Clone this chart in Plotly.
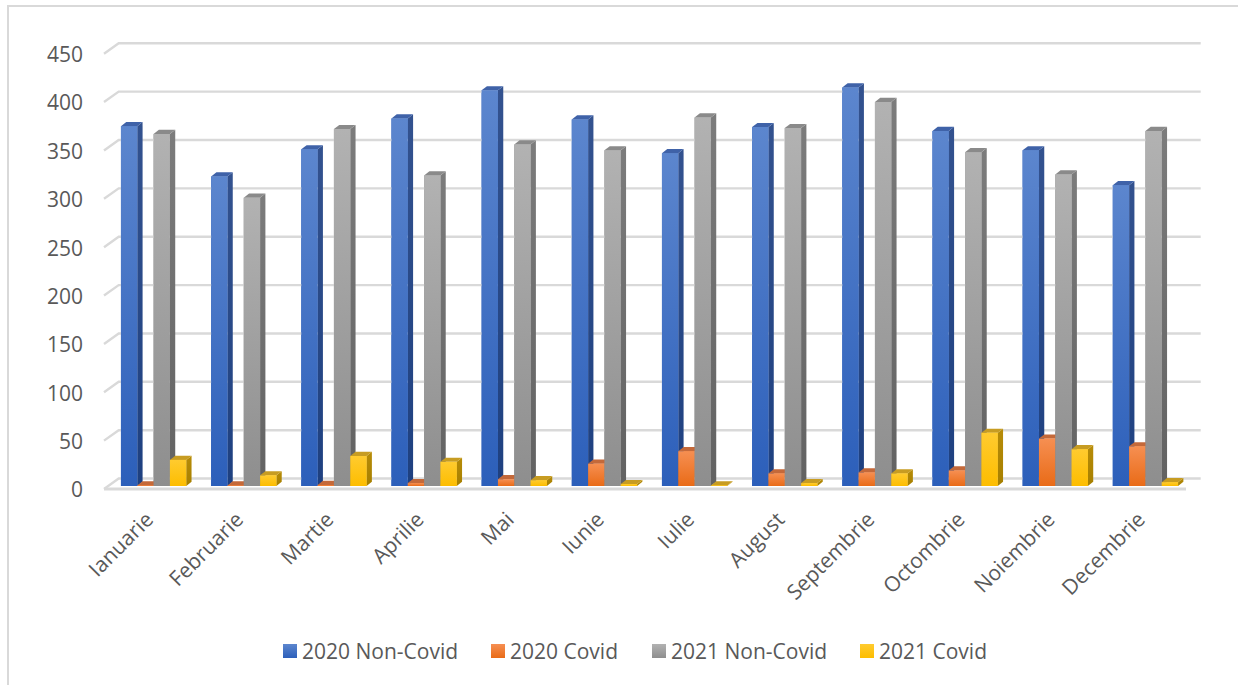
import plotly.graph_objects as go

months = ["Ianuarie", "Februarie", "Martie", "Aprilie", "Mai", "Iunie", "Iulie",
          "August", "Septembrie", "Octombrie", "Noiembrie", "Decembrie"]
non_covid_2020 = [372, 320, 348, 380, 409, 379, 344, 371, 412, 367, 347, 311]
covid_2020 = [0.5, 0.5, 1, 3, 7, 23, 36, 13, 14, 16, 49, 41]
non_covid_2021 = [364, 298, 369, 321, 353, 347, 381, 370, 397, 345, 322, 367]
covid_2021 = [27, 11, 31, 25, 6, 2, 0.5, 3, 13, 55, 38, 4]
grid_levels = list(range(0, 451, 50))

series = [
    ("2020 Non-Covid", non_covid_2020, "#5c86ce", "#2c5fba", "#33528f", "#1e4080", "#3f62a8"),
    ("2020 Covid", covid_2020, "#f68f52", "#e96b17", "#b56a40", "#a94e12", "#c4693a"),
    ("2021 Non-Covid", non_covid_2021, "#b2b2b2", "#8e8e8e", "#7c7c7c", "#626262", "#8a8a8a"),
    ("2021 Covid", covid_2021, "#ffcb2f", "#fdbd00", "#b78c08", "#a67f00", "#c79c22"),
]

# Canvas and plot area in pixels
W, H = 1248, 685
PLOT_L, PLOT_R, PLOT_T, PLOT_B = 104, 1186, 15, 489
Y_TOP = 490
X_MIN, X_MAX = -0.5, 11.5

# Oblique projection, expressed in axis units
BAR_W = 0.181        # width of a single bar in category units
BAR_SHIFT = 0.05     # bars stand slightly behind the front edge of the floor
BAR_LIFT = 3.1
BAR_DX, BAR_DY = 0.059, 4.3      # depth of one bar
WALL_DX, WALL_DY = 0.163, 10.8   # depth of the back wall
GRID = "#d9d9d9"
FONT_SIZE = 21

# Key swatch centres along the bottom edge, and where each text starts
KEY_X_PX = [290, 498, 659, 867]
KEY_Y_PX = 651
KEY_TEXT_DX = 12
KEY_TEXT_DY = 3


def px_to_x(px):
    return X_MIN + (px - PLOT_L) * (X_MAX - X_MIN) / (PLOT_R - PLOT_L)


def px_to_y(px):
    return (PLOT_B - px) * Y_TOP / (PLOT_B - PLOT_T)


# The faces, the wall and the key sit on a hidden pair of axes that has the same
# scale as the main axes but spans the whole canvas, so nothing gets clipped.
OVER = dict(xaxis="x2", yaxis="y2", showlegend=False, hoverinfo="skip", cliponaxis=False)

fig = go.Figure()

# Solid front faces
for k, (name, vals, top, bottom, *_ ) in enumerate(series):
    fig.add_trace(go.Bar(
        x=list(range(len(months))), y=vals, base=BAR_LIFT, width=BAR_W,
        offset=BAR_SHIFT + (k - 2) * BAR_W, marker=dict(color=bottom, line_width=0),
        name=name, showlegend=False, hoverinfo="skip",
    ))

# Back wall grid with the slanted run-in on the left
for v in grid_levels:
    fig.add_trace(go.Scatter(
        x=[X_MIN, X_MIN + WALL_DX, X_MAX + WALL_DX], y=[v, v + WALL_DY, v + WALL_DY],
        mode="lines", line=dict(color=GRID, width=2.4), **OVER,
    ))
# Front edge of the floor
fig.add_trace(go.Scatter(
    x=[X_MIN, X_MAX], y=[0, 0], mode="lines", line=dict(color=GRID, width=3), **OVER,
))


def gradient(c_top, c_bottom):
    return dict(type="vertical", colorscale=[[0, c_bottom], [1, c_top]])


# Cuboids, left to right so nearer bars cover the side of their neighbour
for i in range(len(months)):
    for k, (name, vals, top, bottom, side_top, side_bottom, cap) in enumerate(series):
        x0 = i + BAR_SHIFT + (k - 2) * BAR_W
        x1 = x0 + BAR_W
        y0 = BAR_LIFT
        y1 = BAR_LIFT + vals[i]
        fig.add_trace(go.Scatter(
            x=[x1, x1 + BAR_DX, x1 + BAR_DX, x1, x1],
            y=[y0, y0 + BAR_DY, y1 + BAR_DY, y1, y0],
            mode="none", fill="toself", fillgradient=gradient(side_top, side_bottom), **OVER,
        ))
        fig.add_trace(go.Scatter(
            x=[x0, x1, x1 + BAR_DX, x0 + BAR_DX, x0],
            y=[y1, y1, y1 + BAR_DY, y1 + BAR_DY, y1],
            mode="none", fill="toself", fillcolor=cap, **OVER,
        ))
        fig.add_trace(go.Scatter(
            x=[x0, x1, x1, x0, x0], y=[y0, y0, y1, y1, y0],
            mode="none", fill="toself", fillgradient=gradient(top, bottom), **OVER,
        ))

# Key below the category labels: gradient swatch, then its text
for (name, vals, top, bottom, *_), px in zip(series, KEY_X_PX):
    fig.add_trace(go.Scatter(
        x=[px_to_x(px)], y=[px_to_y(KEY_Y_PX)], mode="markers", name=name,
        marker=dict(symbol="square", size=14, color=top, line_width=0,
                    gradient=dict(type="vertical", color=bottom)),
        **OVER,
    ))
    fig.add_trace(go.Scatter(
        x=[px_to_x(px + KEY_TEXT_DX)], y=[px_to_y(KEY_Y_PX + KEY_TEXT_DY)], mode="text",
        text=[name], textposition="middle right",
        textfont=dict(family="Open Sans", size=FONT_SIZE, color="#595959"),
        **OVER,
    ))

fig.update_layout(
    width=W, height=H, autosize=False,
    margin=dict(l=0, r=0, t=0, b=0, pad=0, autoexpand=False),
    paper_bgcolor="white", plot_bgcolor="rgba(0,0,0,0)",
    font=dict(family="Open Sans", size=FONT_SIZE, color="#595959"),
    barmode="overlay",
    xaxis=dict(domain=[PLOT_L / W, PLOT_R / W], range=[X_MIN, X_MAX],
               tickvals=list(range(len(months))), ticktext=months,
               tickangle=-45, showgrid=False, zeroline=False, showline=False, ticks="",
               ticklabelstandoff=13, ticklabelshift=-2),
    yaxis=dict(domain=[1 - PLOT_B / H, 1 - PLOT_T / H], range=[0, Y_TOP],
               tickvals=grid_levels, showgrid=False, zeroline=False,
               showline=False, ticks="", ticklabelstandoff=20, ticklabelshift=1),
    xaxis2=dict(domain=[0, 1], range=[px_to_x(0), px_to_x(W)], visible=False, anchor="y2"),
    yaxis2=dict(domain=[0, 1], range=[px_to_y(H), px_to_y(0)], visible=False, anchor="x2"),
    # Frame: left and top edges only
    shapes=[
        dict(type="line", xref="paper", yref="paper", layer="below",
             x0=8 / W, x1=8 / W, y0=0, y1=1 - 6 / H,
             line=dict(color=GRID, width=2)),
        dict(type="line", xref="paper", yref="paper", layer="below",
             x0=7 / W, x1=1238 / W, y0=1 - 6 / H, y1=1 - 6 / H,
             line=dict(color=GRID, width=2)),
    ],
    showlegend=False,
)

fig.write_html("out.html")
